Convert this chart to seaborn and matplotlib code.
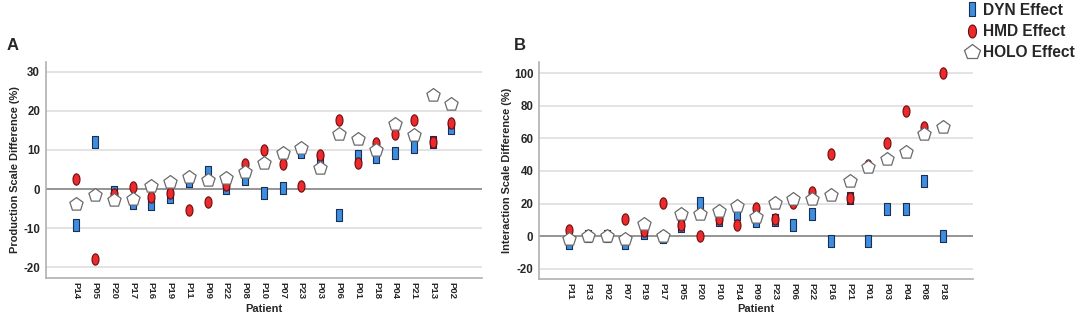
import numpy as np
import pandas as pd
import matplotlib
matplotlib.use("Agg")
import matplotlib.pyplot as plt
import seaborn as sns
from matplotlib.lines import Line2D

# ---------------- data ----------------
patients_a = ["P14", "P05", "P20", "P17", "P16", "P19", "P11", "P09", "P22", "P08", "P10",
              "P07", "P23", "P03", "P06", "P01", "P18", "P04", "P21", "P13", "P02"]
dyn_a = [-9.2, 12.1, -0.8, -3.5, -3.8, -2.0, 2.0, 4.4, 0.2, 2.6, -0.9,
         0.3, 9.4, 7.7, -6.6, 8.5, 8.3, 9.3, 10.8, 12.1, 15.5]
hmd_a = [2.5, -17.9, -1.2, 0.6, -2.1, -0.9, -5.4, -3.4, 1.0, 6.4, 10.1,
         6.3, 0.9, 8.7, 17.6, 6.7, 11.9, 14.2, 17.6, 12.0, 16.8]
holo_a = [-3.9, -1.4, -2.7, -2.5, 0.9, 1.7, 3.2, 2.3, 2.7, 4.3, 6.7,
          9.2, 10.6, 5.3, 14.0, 12.9, 10.0, 16.7, 13.9, 24.2, 21.7]

patients_b = ["P11", "P13", "P02", "P07", "P19", "P17", "P05", "P20", "P10", "P14", "P09",
              "P23", "P06", "P22", "P16", "P21", "P01", "P03", "P04", "P08", "P18"]
dyn_b = [-4.5, 0.0, 0.0, -4.5, 2.0, -0.4, 6.4, 20.3, 9.8, 13.3, 9.2,
         9.8, 6.8, 13.5, -3.1, 23.4, -3.1, 16.8, 16.8, 33.8, 0.2]
hmd_b = [3.7, 0.0, 0.0, 10.2, 3.3, 20.1, 6.8, 0.0, 10.5, 6.8, 17.0,
         10.5, 20.1, 26.8, 50.4, 23.4, 43.4, 57.0, 77.0, 66.8, 100.4]
holo_b = [-2.0, 0.3, 0.0, -2.0, 7.2, 0.0, 13.5, 13.5, 15.6, 18.2, 11.9,
          20.3, 22.5, 22.5, 25.0, 33.8, 42.2, 47.1, 51.4, 62.7, 67.0]

yticks_a = [-20, -10, 0, 10, 20, 30]
yticks_b = [-20, 0, 20, 40, 60, 80, 100]
series_names = ["DYN Effect", "HMD Effect", "HOLO Effect"]

# ---------------- styles ----------------
rect_marker = [(-0.45, -1), (0.45, -1), (0.45, 1), (-0.45, 1), (-0.45, -1)]
t = np.linspace(0, 2 * np.pi, 40)
ell_marker = list(zip(0.62 * np.cos(t), np.sin(t)))

styles = {
    "DYN Effect": dict(marker=rect_marker, color="#3d8ee0", edgecolor="#1b2f55", s=72, lw=0.8),
    "HMD Effect": dict(marker=ell_marker, color="#ea2a2c", edgecolor="#6e0a0a", s=66, lw=0.8),
    "HOLO Effect": dict(marker="p", color="white", edgecolor="#6a6a6a", s=100, lw=0.9),
}

sns.set_theme(style="white")
plt.rcParams["font.family"] = ["Liberation Sans", "DejaVu Sans"]
plt.rcParams["font.weight"] = "bold"
plt.rcParams["axes.unicode_minus"] = False

fig = plt.figure(figsize=(10.84, 3.2), dpi=100)
W, H = 1084, 320
axA = fig.add_axes([45.7 / W, 1 - 277.7 / H, (482 - 45.7) / W, (277.7 - 61.7) / H])
axB = fig.add_axes([539 / W, 1 - 279 / H, (973.3 - 539) / W, (279 - 62.3) / H])


def draw(ax, patients, vals, yticks, ylim, ylabel, ylab_x, xlab_y):
    df = pd.DataFrame({"Patient": patients,
                       "DYN Effect": vals[0], "HMD Effect": vals[1], "HOLO Effect": vals[2]})
    for name in series_names:
        st = styles[name]
        sns.scatterplot(data=df, x="Patient", y=name, ax=ax, marker=st["marker"],
                        color=st["color"], edgecolor=st["edgecolor"], s=st["s"],
                        linewidth=st["lw"], zorder=3, legend=False)
    ax.set_xlim(-1.63, len(patients) - 1 + 1.63)
    ax.set_ylim(*ylim)
    ax.set_yticks(yticks)
    for yv in yticks:
        if yv == 0:
            ax.axhline(0, color="#8c8c8c", lw=1.3, zorder=1)
        else:
            ax.axhline(yv, color="#dedede", lw=1.2, zorder=0)
    ax.set_xticks(range(len(patients)))
    ax.set_xticklabels(patients, rotation=270, fontsize=6.8, fontweight="bold")
    ax.tick_params(axis="y", labelsize=8.3, length=0, pad=4)
    ax.tick_params(axis="x", length=0, pad=3)
    for lab in ax.get_yticklabels():
        lab.set_fontweight("bold")
    ax.set_xlabel("Patient", fontsize=8, fontweight="bold")
    ax.xaxis.set_label_coords(0.5, xlab_y)
    ax.set_ylabel(ylabel, fontsize=7.9, fontweight="bold")
    ax.yaxis.set_label_coords(ylab_x, 0.5)
    for sp in ["top", "right"]:
        ax.spines[sp].set_visible(False)
    for sp in ["left", "bottom"]:
        ax.spines[sp].set_color("#b0b0b0")
        ax.spines[sp].set_linewidth(1.2)


draw(axA, patients_a, [dyn_a, hmd_a, holo_a], yticks_a, (-22.7, 32.6),
     "Production Scale Difference (%)", -0.059, -0.122)
draw(axB, patients_b, [dyn_b, hmd_b, holo_b], yticks_b, (-26.4, 106.8),
     "Interaction Scale Difference (%)", -0.062, -0.115)

fig.text(7 / W, 1 - 45 / H, "A", fontsize=12, fontweight="bold", va="center", ha="left")
fig.text(514 / W, 1 - 45 / H, "B", fontsize=12, fontweight="bold", va="center", ha="left")

handles = []
for name in series_names:
    st = styles[name]
    handles.append(Line2D([], [], ls="none", marker=st["marker"], markerfacecolor=st["color"],
                          markeredgecolor=st["edgecolor"], markeredgewidth=st["lw"],
                          markersize=np.sqrt(st["s"]) * 1.15, label=name))
fig.legend(handles=handles, loc="upper right", bbox_to_anchor=(1.0, 1.02), frameon=False,
           prop={"weight": "bold", "size": 11.2}, handletextpad=0.2, labelspacing=0.4,
           handlelength=1.0, borderaxespad=0.2)

fig.savefig("out.png", dpi=100)
